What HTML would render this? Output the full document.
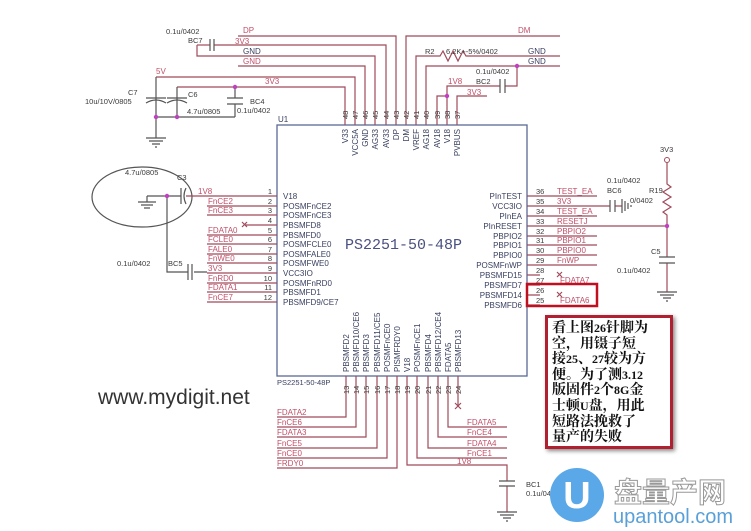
<!DOCTYPE html>
<html><head><meta charset="utf-8"><style>
html,body{margin:0;padding:0;background:#fff;}
svg{display:block;}
.w{stroke:#a04a5a;stroke-width:1.2;fill:none;}
.b{stroke:#5a6a96;stroke-width:1.3;fill:none;}
.k{stroke:#555;stroke-width:1.2;fill:none;}
text{font-family:"Liberation Sans",sans-serif;}
.n{fill:#c0506a;font-size:8px;}
.t{fill:#3a4060;font-size:8px;}
.p{fill:#3a3a3a;font-size:7.5px;}
.note{position:absolute;left:545px;top:315px;width:118px;height:125px;border:3px solid #b02030;box-shadow:2px 2px 4px #888;padding:3px 0 0 4px;font-family:"Liberation Serif","Noto Serif CJK SC",serif;font-weight:bold;font-size:14px;line-height:15.6px;color:#111;background:#fff;white-space:nowrap;overflow:hidden;}
.note span{font-size:12px;}
</style></head><body>
<div style="position:relative;width:751px;height:531px;overflow:hidden;">
<svg width="751" height="531" viewBox="0 0 751 531">
<rect x="277" y="125" width="250" height="251" class="b"/>
<text x="278" y="122" class="t">U1</text>
<text x="277" y="385" class="t" style="font-size:7.5px">PS2251-50-48P</text>
<text x="345" y="249" style="font-family:'Liberation Mono',monospace;font-size:15px;fill:#4a5080">PS2251-50-48P</text>

<g class="w">
<path d="M238 36H396V125"/><path d="M406 125V36H560"/>
<path d="M214 45H386V125"/><path d="M197 45V56H375V125"/>
<path d="M238 66H365V125"/><path d="M156 77H355V125"/>
<path d="M177 87H345V125"/>
<path d="M416 125V56H440l3-5 5 10 5-10 5 10 5-10 3 5H560"/>
<path d="M426 125V66H560"/>
<path d="M437 125V96H447"/><path d="M447 125V86H500"/><path d="M505 86H517V66"/>
<path d="M457 125V96H487"/>
<path d="M197 45H210"/>
</g>
<g class="k">
<path d="M210 39V51M214 39V51"/>
<path d="M500 79V93M505 79V93"/>
<path d="M156 77V138M177 87V117M156 117H235M235 87V98M235 104V117"/>
<path d="M146 98H166M146 103q10-6 20 0M167 98H187M167 103q10-6 20 0"/>
<path d="M227 98H243M227 104H243"/>
<path d="M146 138H166M149 141H163M152 144H160M155 147H157"/>
</g>
<g fill="#c040c0"><circle cx="235" cy="87" r="2.2"/><circle cx="156" cy="117" r="2.2"/><circle cx="177" cy="117" r="2.2"/><circle cx="517" cy="66" r="2.2"/><circle cx="447" cy="96" r="2.2"/></g>
<text x="166" y="34" class="p">0.1u/0402</text><text x="188" y="43" class="p">BC7</text>
<text x="243" y="33" class="n">DP</text><text x="235" y="44" class="n">3V3</text>
<text x="243" y="54" class="t">GND</text><text x="243" y="64" class="n">GND</text>
<text x="156" y="74" class="n">5V</text><text x="265" y="84" class="n">3V3</text>
<text x="128" y="95" class="p">C7</text><text x="85" y="104" class="p">10u/10V/0805</text>
<text x="188" y="97" class="p">C6</text><text x="187" y="114" class="p">4.7u/0805</text>
<text x="250" y="104" class="p">BC4</text><text x="237" y="113" class="p">0.1u/0402</text>
<text x="518" y="33" class="n">DM</text>
<text x="425" y="54" class="p">R2</text><text x="446" y="54" class="p">6.2K+-5%/0402</text>
<text x="528" y="54" class="t">GND</text><text x="528" y="64" class="t">GND</text>
<text x="476" y="74" class="p">0.1u/0402</text>
<text x="448" y="84" class="n">1V8</text><text x="476" y="84" class="p">BC2</text>
<text x="467" y="95" class="n">3V3</text>

<g class="p">
<text transform="translate(348,119) rotate(-90)">48</text><text transform="translate(358,119) rotate(-90)">47</text>
<text transform="translate(368,119) rotate(-90)">46</text><text transform="translate(378,119) rotate(-90)">45</text>
<text transform="translate(389,119) rotate(-90)">44</text><text transform="translate(399,119) rotate(-90)">43</text>
<text transform="translate(409,119) rotate(-90)">42</text><text transform="translate(419,119) rotate(-90)">41</text>
<text transform="translate(429,119) rotate(-90)">40</text><text transform="translate(440,119) rotate(-90)">39</text>
<text transform="translate(450,119) rotate(-90)">38</text><text transform="translate(460,119) rotate(-90)">37</text>
</g>
<g class="t" text-anchor="end">
<text transform="translate(348,129) rotate(-90)">V33</text><text transform="translate(358,129) rotate(-90)">VCC5A</text>
<text transform="translate(368,129) rotate(-90)">GND</text><text transform="translate(378,129) rotate(-90)">AG33</text>
<text transform="translate(389,129) rotate(-90)">AV33</text><text transform="translate(399,129) rotate(-90)">DP</text>
<text transform="translate(409,129) rotate(-90)">DM</text><text transform="translate(419,129) rotate(-90)">VREF</text>
<text transform="translate(429,129) rotate(-90)">AG18</text><text transform="translate(440,129) rotate(-90)">AV18</text>
<text transform="translate(450,129) rotate(-90)">V18</text><text transform="translate(460,129) rotate(-90)">PVBUS</text>
</g>

<ellipse cx="142" cy="197" rx="50" ry="30" class="k"/>
<g class="k">
<path d="M147 196H167M167 196V272H188M194 272H207"/>
<path d="M147 196V202M138 202H156M141 205H153M144 208H150"/>
<path d="M167 196H181M181 188V204M186 188q-4 8 0 16"/>
<path d="M188 264V280M192 264V280"/>
</g>
<circle cx="167" cy="196" r="2.2" fill="#c040c0"/>
<text x="125" y="175" class="p">4.7u/0805</text><text x="177" y="180" class="p">C3</text>
<text x="117" y="266" class="p">0.1u/0402</text><text x="168" y="266" class="p">BC5</text>
<g class="w">
<path d="M186 196H277"/>
<path d="M207 206H277M207 215H277M245 225H277M207 235H277M207 244H277M207 254H277M207 263H277M207 273H277M207 283H277M207 292H277M207 302H277"/>
<path d="M242 222l5 5M247 222l-5 5"/>
</g>
<g class="n">
<text x="198" y="194">1V8</text><text x="208" y="204">FnCE2</text><text x="208" y="213">FnCE3</text>
<text x="208" y="233">FDATA0</text><text x="208" y="242">FCLE0</text><text x="208" y="252">FALE0</text>
<text x="208" y="261">FnWE0</text><text x="208" y="271">3V3</text><text x="208" y="281">FnRD0</text>
<text x="208" y="290">FDATA1</text><text x="208" y="300">FnCE7</text>
</g>
<g class="p" text-anchor="end">
<text x="272" y="194">1</text><text x="272" y="204">2</text><text x="272" y="213">3</text><text x="272" y="223">4</text>
<text x="272" y="233">5</text><text x="272" y="242">6</text><text x="272" y="252">7</text><text x="272" y="261">8</text>
<text x="272" y="271">9</text><text x="272" y="281">10</text><text x="272" y="290">11</text><text x="272" y="300">12</text>
</g>
<g class="t">
<text x="283" y="199">V18</text><text x="283" y="209">POSMFnCE2</text><text x="283" y="218">POSMFnCE3</text>
<text x="283" y="228">PBSMFD8</text><text x="283" y="238">PBSMFD0</text><text x="283" y="247">POSMFCLE0</text>
<text x="283" y="257">POSMFALE0</text><text x="283" y="266">POSMFWE0</text><text x="283" y="276">VCC3IO</text>
<text x="283" y="286">POSMFnRD0</text><text x="283" y="295">PBSMFD1</text><text x="283" y="305">PBSMFD9/CE7</text>
</g>

<g class="w">
<path d="M527 196H597M527 206H610M615 206H622M527 216H597M527 226H667M527 236H597M527 245H597M527 255H597M527 265H597"/>
<path d="M527 275H540M527 285H540M527 295H540M527 305H540"/>
<path d="M557 272l5 5M562 272l-5 5M557 292l5 5M562 292l-5 5"/>
<path d="M667 163V184l4 3-8 5 8 5-8 5 8 5-8 5 4 3V257M667 263V292"/>
</g>
<g class="k">
<path d="M610 200V212M615 200V212M622 199V213M625 201V211M628 203V209M631 205V207"/>
<path d="M659 257H675M659 263H675"/>
<path d="M657 292H677M660 295H674M663 298H671M666 301H668"/>
</g>
<circle cx="667" cy="160" r="2.5" fill="#fff" stroke="#a04a5a" stroke-width="1"/>
<circle cx="667" cy="226" r="2.2" fill="#c040c0"/>
<text x="660" y="152" class="p">3V3</text>
<text x="607" y="183" class="p">0.1u/0402</text><text x="607" y="193" class="p">BC6</text>
<text x="649" y="193" class="p">R19</text><text x="630" y="203" class="p">0/0402</text>
<text x="651" y="254" class="p">C5</text><text x="617" y="273" class="p">0.1u/0402</text>
<g class="n">
<text x="557" y="194">TEST_EA</text><text x="557" y="204">3V3</text><text x="557" y="214">TEST_EA</text>
<text x="557" y="224">RESETJ</text><text x="557" y="234">PBPIO2</text><text x="557" y="243">PBPIO1</text>
<text x="557" y="253">PBPIO0</text><text x="557" y="263">FnWP</text><text x="560" y="283">FDATA7</text>
<text x="560" y="303">FDATA6</text>
</g>
<g class="p">
<text x="536" y="194">36</text><text x="536" y="204">35</text><text x="536" y="214">34</text><text x="536" y="224">33</text>
<text x="536" y="234">32</text><text x="536" y="243">31</text><text x="536" y="253">30</text><text x="536" y="263">29</text>
<text x="536" y="273">28</text><text x="536" y="283">27</text><text x="536" y="293">26</text><text x="536" y="303">25</text>
</g>
<g class="t" text-anchor="end">
<text x="522" y="199">PInTEST</text><text x="522" y="209">VCC3IO</text><text x="522" y="219">PInEA</text>
<text x="522" y="229">PInRESET</text><text x="522" y="239">PBPIO2</text><text x="522" y="248">PBPIO1</text>
<text x="522" y="258">PBPIO0</text><text x="522" y="268">POSMFnWP</text><text x="522" y="278">PBSMFD15</text>
<text x="522" y="288">PBSMFD7</text><text x="522" y="298">PBSMFD14</text><text x="522" y="308">PBSMFD6</text>
</g>
<rect x="527" y="284" width="70" height="22" fill="none" stroke="#c01020" stroke-width="2.5"/>

<g class="w">
<path d="M346 376V417H277M356 376V427H277M366 376V437H277M377 376V448H277M387 376V458H277M397 376V468H277"/>
<path d="M407 376V465H507V481M507 486V512"/>
<path d="M417 376V458H507M428 376V448H507M438 376V437H507M448 376V427H507M458 376V406"/>
<path d="M455 403l6 6M461 403l-6 6"/>
</g>
<g class="k"><path d="M499 481H515M499 486H515M497 512H517M500 515H514M503 518H511M506 521H508"/></g>
<text x="526" y="487" class="p">BC1</text><text x="526" y="496" class="p">0.1u/0402</text>
<g class="n">
<text x="277" y="415">FDATA2</text><text x="277" y="425">FnCE6</text><text x="277" y="435">FDATA3</text>
<text x="277" y="446">FnCE5</text><text x="277" y="456">FnCE0</text><text x="277" y="466">FRDY0</text>
<text x="467" y="425">FDATA5</text><text x="467" y="435">FnCE4</text><text x="467" y="446">FDATA4</text>
<text x="467" y="456">FnCE1</text><text x="457" y="464">1V8</text>
</g>
<g class="p">
<text transform="translate(349,394) rotate(-90)">13</text><text transform="translate(359,394) rotate(-90)">14</text>
<text transform="translate(369,394) rotate(-90)">15</text><text transform="translate(380,394) rotate(-90)">16</text>
<text transform="translate(390,394) rotate(-90)">17</text><text transform="translate(400,394) rotate(-90)">18</text>
<text transform="translate(410,394) rotate(-90)">19</text><text transform="translate(420,394) rotate(-90)">20</text>
<text transform="translate(431,394) rotate(-90)">21</text><text transform="translate(441,394) rotate(-90)">22</text>
<text transform="translate(451,394) rotate(-90)">23</text><text transform="translate(461,394) rotate(-90)">24</text>
</g>
<g class="t">
<text transform="translate(349,372) rotate(-90)">PBSMFD2</text><text transform="translate(359,372) rotate(-90)">PBSMFD10/CE6</text>
<text transform="translate(369,372) rotate(-90)">PBSMFD3</text><text transform="translate(380,372) rotate(-90)">PBSMFD11/CE5</text>
<text transform="translate(390,372) rotate(-90)">POSMFnCE0</text><text transform="translate(400,372) rotate(-90)">PISMFRDY0</text>
<text transform="translate(410,372) rotate(-90)">V18</text><text transform="translate(420,372) rotate(-90)">POSMFnCE1</text>
<text transform="translate(431,372) rotate(-90)">PBSMFD4</text><text transform="translate(441,372) rotate(-90)">PBSMFD12/CE4</text>
<text transform="translate(451,372) rotate(-90)">FDATA5</text><text transform="translate(461,372) rotate(-90)">PBSMFD13</text>
</g>

<text x="98" y="404" style="font-size:21px;fill:#333">www.mydigit.net</text>

<circle cx="577" cy="495" r="27" fill="#5aa8e8"/>
<text x="577" y="508" text-anchor="middle" style="font-size:38px;font-weight:bold;fill:#fff">U</text>
<text x="614" y="502" style="font-family:'Noto Sans CJK SC',sans-serif;font-size:28px;font-weight:bold;fill:#fff;stroke:#999;stroke-width:1">盘量产网</text>
<text x="613" y="523" style="font-size:20px;fill:#5aa0d8">upantool.com</text>
</svg>
<div class="note">看上图<span>26</span>针脚为<br>空，用镊子短<br>接<span>25</span>、<span>27</span>较为方<br>便。为了测<span>3.12</span><br>版固件<span>2</span>个<span>8G</span>金<br>士顿<span>U</span>盘，用此<br>短路法挽救了<br>量产的失败</div>
</div>
</body></html>
